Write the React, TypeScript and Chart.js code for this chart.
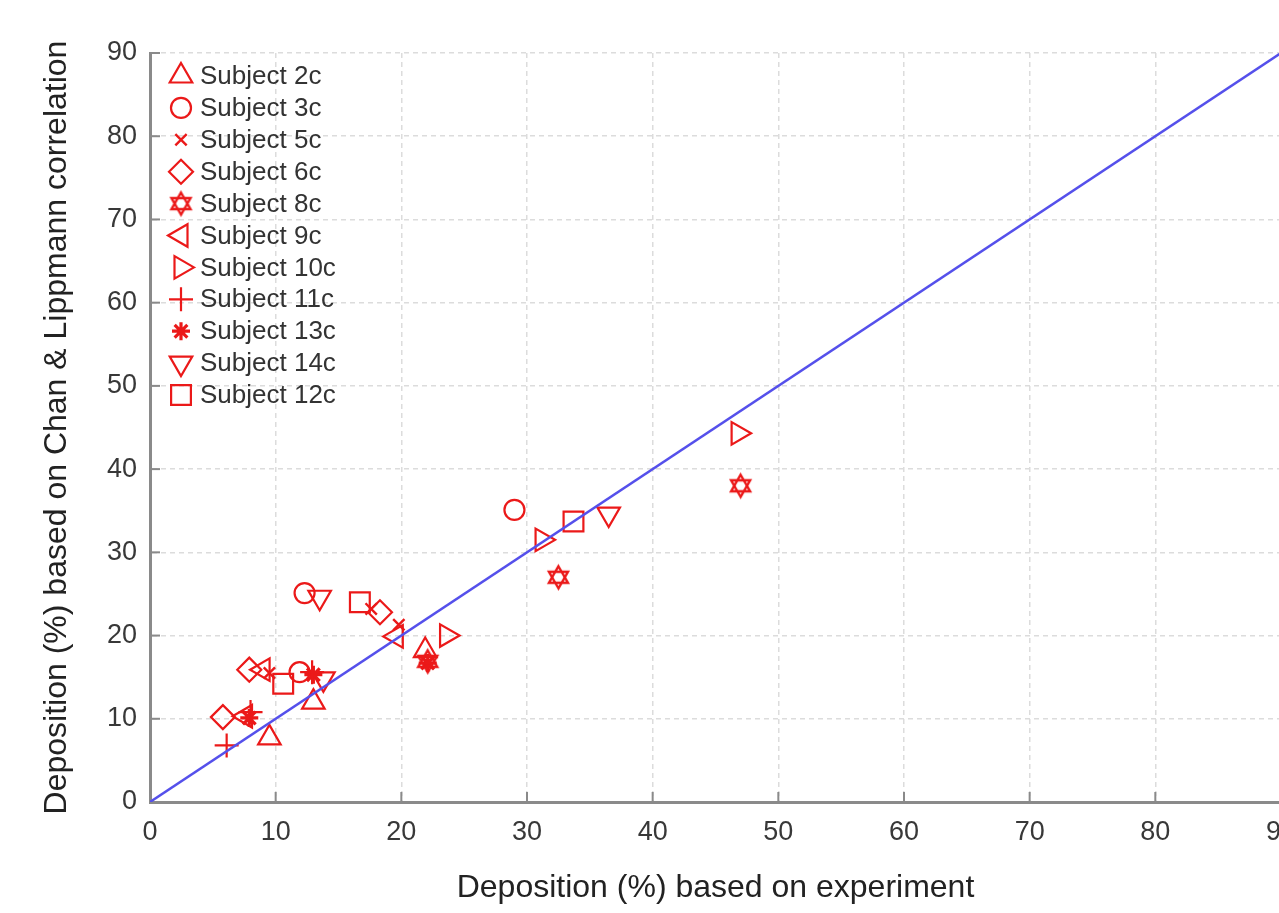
import React, { useEffect, useRef } from 'react';
import { Chart, registerables } from 'chart.js';
import { drawPoint } from 'chart.js/helpers';

Chart.register(...registerables);

// ---------- data ----------
const subjectNames = [
  'Subject 2c', 'Subject 3c', 'Subject 5c', 'Subject 6c', 'Subject 8c', 'Subject 9c',
  'Subject 10c', 'Subject 11c', 'Subject 13c', 'Subject 14c', 'Subject 12c',
];

const s2c = [{ x: 9.5, y: 7.7 }, { x: 13.0, y: 12.0 }, { x: 21.9, y: 18.2 }];
const s3c = [{ x: 29.0, y: 35.1 }, { x: 12.3, y: 25.1 }, { x: 11.9, y: 15.6 }];
const s5c = [{ x: 19.8, y: 21.3 }, { x: 17.6, y: 23.2 }, { x: 9.5, y: 15.5 }];
const s6c = [{ x: 18.3, y: 22.8 }, { x: 7.9, y: 15.9 }, { x: 5.8, y: 10.2 }];
const s8c = [{ x: 47.0, y: 38.0 }, { x: 32.5, y: 27.0 }, { x: 22.1, y: 16.9 }];
const s9c = [{ x: 19.6, y: 19.9 }, { x: 9.0, y: 15.9 }, { x: 7.6, y: 10.3 }];
const s10c = [{ x: 46.8, y: 44.3 }, { x: 31.2, y: 31.5 }, { x: 23.6, y: 20.0 }];
const s11c = [{ x: 6.1, y: 6.8 }, { x: 8.0, y: 10.8 }, { x: 12.9, y: 15.6 }];
const s13c = [{ x: 22.1, y: 16.7 }, { x: 13.0, y: 15.3 }, { x: 7.9, y: 10.1 }];
const s14c = [{ x: 36.5, y: 34.6 }, { x: 13.5, y: 24.6 }, { x: 13.8, y: 14.8 }];
const s12c = [{ x: 33.7, y: 33.7 }, { x: 16.7, y: 24.0 }, { x: 10.6, y: 14.2 }];

const subjectData = [s2c, s3c, s5c, s6c, s8c, s9c, s10c, s11c, s13c, s14c, s12c];

const identityLine = [{ x: 0, y: 0 }, { x: 90, y: 90 }];

const axisMin = 0;
const axisMax = 90;
const tickStep = 10;

const xTitle = 'Deposition (%) based on experiment';
const yTitle = 'Deposition (%) based on Chan & Lippmann correlation';

// ---------- styles ----------
const RED = 'rgb(235,25,25)';
const BLUE = 'rgb(85,80,235)';
const FONT = '"Liberation Sans", Arial, sans-serif';

function makeHexagram(r: number, color: string, lw: number): HTMLCanvasElement {
  const size = Math.ceil(2 * r + lw * 2 + 4);
  const c = document.createElement('canvas');
  c.width = size;
  c.height = size;
  const ctx = c.getContext('2d')!;
  const cx = size / 2;
  const cy = size / 2;
  ctx.strokeStyle = color;
  ctx.lineWidth = lw;
  ctx.lineJoin = 'miter';
  for (const rot of [0, Math.PI]) {
    ctx.beginPath();
    for (let k = 0; k < 3; k++) {
      const a = rot + (k * 2 * Math.PI) / 3;
      const px = cx + r * Math.sin(a);
      const py = cy - r * Math.cos(a);
      if (k === 0) ctx.moveTo(px, py);
      else ctx.lineTo(px, py);
    }
    ctx.closePath();
    ctx.stroke();
  }
  return c;
}

type MarkerStyle = { pointStyle: any; rotation: number; radius: number; borderWidth: number };

function markerStyles(): MarkerStyle[] {
  const hex = makeHexagram(11, RED, 2.4);
  return [
    { pointStyle: 'triangle', rotation: 0, radius: 13, borderWidth: 2.2 },
    { pointStyle: 'circle', rotation: 0, radius: 10, borderWidth: 2.2 },
    { pointStyle: 'crossRot', rotation: 0, radius: 8, borderWidth: 2.4 },
    { pointStyle: 'rectRot', rotation: 0, radius: 12, borderWidth: 2.2 },
    { pointStyle: hex, rotation: 0, radius: 11, borderWidth: 2.2 },
    { pointStyle: 'triangle', rotation: -90, radius: 13, borderWidth: 2.2 },
    { pointStyle: 'triangle', rotation: 90, radius: 13, borderWidth: 2.2 },
    { pointStyle: 'cross', rotation: 0, radius: 12, borderWidth: 2.2 },
    { pointStyle: 'star', rotation: 0, radius: 9, borderWidth: 3.2 },
    { pointStyle: 'triangle', rotation: 180, radius: 13, borderWidth: 2.2 },
    { pointStyle: 'rect', rotation: 0, radius: 14, borderWidth: 2.2 },
  ];
}

export default function App() {
  const ref = useRef<HTMLCanvasElement | null>(null);

  useEffect(() => {
    if (!ref.current) return;
    const styles = markerStyles();

    const legendPlugin = {
      id: 'insideLegend',
      afterDraw(chart: any) {
        const ctx = chart.ctx as CanvasRenderingContext2D;
        ctx.save();
        subjectNames.forEach((name, i) => {
          const y = 76 + i * 31.9;
          const st = styles[i];
          ctx.strokeStyle = RED;
          ctx.fillStyle = 'rgba(0,0,0,0)';
          ctx.lineWidth = st.borderWidth;
          drawPoint(ctx, { pointStyle: st.pointStyle, rotation: st.rotation, radius: st.radius, borderWidth: st.borderWidth } as any, 181, y);
          ctx.fillStyle = '#333';
          ctx.font = `26px ${FONT}`;
          ctx.textAlign = 'left';
          ctx.textBaseline = 'middle';
          ctx.fillText(name, 200, y + 1);
        });
        ctx.restore();
      },
    };

    const innerTicks = {
      id: 'innerTicks',
      afterDatasetsDraw(chart: any) {
        const ctx = chart.ctx as CanvasRenderingContext2D;
        const xs = chart.scales.x;
        const ys = chart.scales.y;
        const { left, bottom } = chart.chartArea;
        ctx.save();
        ctx.strokeStyle = '#8a8a8a';
        ctx.lineWidth = 2;
        for (let v = axisMin + tickStep; v <= axisMax; v += tickStep) {
          const px = xs.getPixelForValue(v);
          ctx.beginPath();
          ctx.moveTo(px, bottom);
          ctx.lineTo(px, bottom - 10);
          ctx.stroke();
          const py = ys.getPixelForValue(v);
          ctx.beginPath();
          ctx.moveTo(left, py);
          ctx.lineTo(left + 10, py);
          ctx.stroke();
        }
        ctx.restore();
      },
    };

    const scatterSets = subjectData.map((d, i) => ({
      type: 'scatter' as const,
      label: subjectNames[i],
      data: d,
      pointStyle: styles[i].pointStyle,
      rotation: styles[i].rotation,
      pointRadius: styles[i].radius,
      pointHoverRadius: styles[i].radius,
      pointBorderWidth: styles[i].borderWidth,
      borderColor: RED,
      backgroundColor: 'rgba(0,0,0,0)',
      order: 2,
    }));

    const axisCommon = (title: string) => ({
      type: 'linear' as const,
      min: axisMin,
      max: axisMax,
      ticks: {
        stepSize: tickStep,
        color: '#383838',
        font: { family: FONT, size: 27 },
      },
      grid: { color: '#dcdcdc', lineWidth: 1.5, drawTicks: false },
      border: { display: true, color: '#8a8a8a', width: 3, dash: [5, 4] },
      title: {
        display: true,
        text: title,
        color: '#222',
        font: { family: FONT, size: 32 },
      },
    });

    const xAxis: any = axisCommon(xTitle);
    xAxis.ticks.padding = 14;
    xAxis.title.padding = { top: 0, bottom: 6 };
    xAxis.afterFit = (s: any) => { s.height = 111; };

    const yAxis: any = axisCommon(yTitle);
    yAxis.ticks.padding = 13;
    yAxis.title.padding = { top: 38, bottom: 0 };
    yAxis.afterFit = (s: any) => { s.width = 150; };

    const chart = new Chart(ref.current, {
      data: {
        datasets: [
          ...scatterSets,
          {
            type: 'line' as const,
            label: 'y = x',
            data: identityLine,
            borderColor: BLUE,
            borderWidth: 2.5,
            pointRadius: 0,
            fill: false,
            order: 1,
          },
        ],
      } as any,
      options: {
        animation: false,
        responsive: false,
        maintainAspectRatio: false,
        layout: { padding: { top: 53, right: 20, left: 0, bottom: 0 } },
        plugins: {
          legend: { display: false },
          tooltip: { enabled: false },
        },
        scales: { x: xAxis, y: yAxis },
      },
      plugins: [innerTicks, legendPlugin],
    });

    return () => chart.destroy();
  }, []);

  return (
    <div
      style={{
        position: 'fixed',
        left: 0,
        top: 0,
        width: 1279,
        height: 913,
        overflow: 'hidden',
        background: '#fff',
      }}
    >
      <canvas ref={ref} width={1310} height={913} style={{ width: 1310, height: 913, display: 'block' }} />
    </div>
  );
}
